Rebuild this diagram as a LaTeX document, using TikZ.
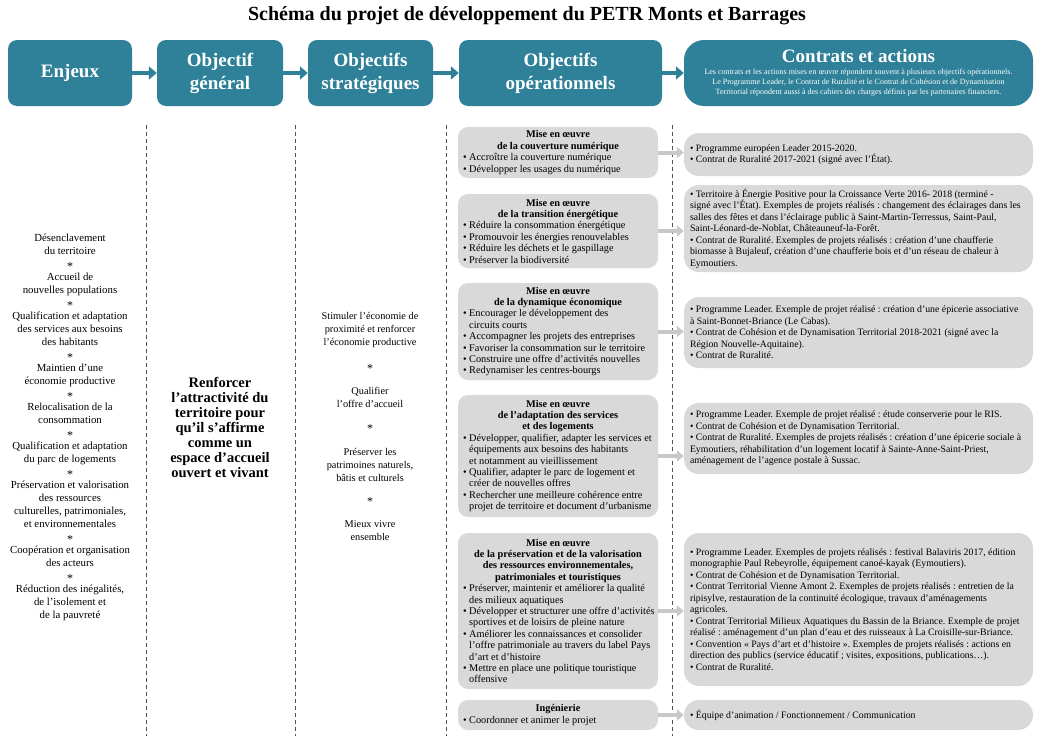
\documentclass[tikz,border=0pt]{standalone}
\usepackage{fontspec}
\setmainfont{Liberation Serif}
\usetikzlibrary{arrows.meta}
\definecolor{petrteal}{HTML}{2E8198}
\definecolor{boxgray}{HTML}{D9D9D9}
\definecolor{arrgray}{HTML}{C8C8C8}
\definecolor{dashgray}{HTML}{505050}
\newcommand\ttl[1]{\makebox[190pt][c]{\bfseries #1}}
\newcommand\ind{\hphantom{•\ }}
\newcommand\petrstar{{\fontsize{12}{13}\selectfont\raisebox{-3pt}[6pt][0pt]{*}}}
\frenchspacing
\begin{document}
\begin{tikzpicture}[x=1pt,y=-1pt,
  hdr/.style={fill=petrteal,text=white,rounded corners=9pt,minimum height=66pt,inner sep=0pt,align=center,font=\fontsize{19}{23}\selectfont\bfseries},
  hdrarrow/.style={draw=petrteal,line width=4.5pt,-{Triangle[length=8pt,width=13pt]}},
  opbox/.style={fill=boxgray,rounded corners=10pt,minimum width=200pt,inner sep=0pt},
  ctbox/.style={fill=boxgray,rounded corners=15pt,minimum width=349pt,inner sep=0pt},
  optext/.style={anchor=west,inner sep=0pt,align=left,font=\fontsize{10.3}{11.4}\selectfont},
  cttext/.style={anchor=west,inner sep=0pt,align=left,font=\fontsize{9.8}{11.5}\selectfont},
  grayarrow/.style={draw=arrgray,line width=4pt,-{Triangle[length=7pt,width=11pt]}},
  divider/.style={draw=dashgray,line width=0.8pt,dash pattern=on 4pt off 3pt},
  coltext/.style={align=center,inner sep=0pt,font=\fontsize{10.8}{13}\selectfont},
  strtext/.style={align=center,inner sep=0pt,font=\fontsize{10.3}{13}\selectfont},
]
\useasboundingbox (0,0) rectangle (1040,736);

% title
\node[font=\fontsize{20}{22}\selectfont\bfseries,inner sep=0pt] (title) at (527,16) {Schéma du projet de développement du PETR Monts et Barrages};

% headers
\node[hdr,minimum width=124pt] (h1) at (70,73) {Enjeux};
\node[hdr,minimum width=126pt] (h2) at (220,73) {Objectif\\général};
\node[hdr,minimum width=125pt] (h3) at (370.5,73) {Objectifs\\stratégiques};
\node[hdr,minimum width=203pt] (h4) at (560.5,73) {Objectifs\\opérationnels};
\node[hdr,minimum width=349pt,rounded corners=20pt] (h5) at (858.5,73) {};
\node[text=white,font=\fontsize{19}{22}\selectfont\bfseries,inner sep=0pt] (h5t) at (858.5,56) {Contrats et actions};
\node[text=white,align=center,font=\fontsize{8}{10}\selectfont,inner sep=0pt] (h5s) at (858.5,83) {Les contrats et les actions mises en œuvre répondent souvent à plusieurs objectifs opérationnels.\\Le Programme Leader, le Contrat de Ruralité et le Contrat de Cohésion et de Dynamisation\\Territorial répondent aussi à des cahiers des charges définis par les partenaires financiers.};

\draw[hdrarrow] (h1.east) -- (h2.west);
\draw[hdrarrow] (h2.east) -- (h3.west);
\draw[hdrarrow] (h3.east) -- (h4.west);
\draw[hdrarrow] (h4.east) -- (h5.west);

% dividers
\draw[divider] (146,125) -- (146,736);
\draw[divider] (295,125) -- (295,736);
\draw[divider] (446,125) -- (446,736);
\draw[divider] (672,125) -- (672,736);

% enjeux column
\node[coltext] (enj) at (70,427) {Désenclavement\\du territoire\\\petrstar\\Accueil de\\nouvelles populations\\\petrstar\\Qualification et adaptation\\des services aux besoins\\des habitants\\\petrstar\\Maintien d'une\\économie productive\\\petrstar\\Relocalisation de la\\consommation\\\petrstar\\Qualification et adaptation\\du parc de logements\\\petrstar\\Préservation et valorisation\\des ressources\\culturelles, patrimoniales,\\et environnementales\\\petrstar\\Coopération et organisation\\des acteurs\\\petrstar\\Réduction des inégalités,\\de l'isolement et\\de la pauvreté};

% objectif general
\node[align=center,font=\fontsize{14.5}{15}\selectfont\bfseries,inner sep=0pt] (gen) at (220,427) {Renforcer\\l'attractivité du\\territoire pour\\qu'il s'affirme\\comme un\\espace d'accueil\\ouvert et vivant};

% objectifs strategiques
\node[strtext] (s1) at (370,330) {Stimuler l'économie de\\proximité et renforcer\\l'économie productive};
\node[strtext] (st1) at (370,366) {\petrstar};
\node[strtext] (s2) at (370,397) {Qualifier\\l'offre d'accueil};
\node[strtext] (st2) at (370,426) {\petrstar};
\node[strtext] (s3) at (370,465) {Préserver les\\patrimoines naturels,\\bâtis et culturels};
\node[strtext] (st3) at (370,499) {\petrstar};
\node[strtext] (s4) at (370,530.5) {Mieux vivre\\ensemble};

% operational boxes
\node[opbox,minimum height=51pt] (o1) at (558,152.5) {};
\node[opbox,minimum height=74pt] (o2) at (558,231) {};
\node[opbox,minimum height=97pt] (o3) at (558,331.5) {};
\node[opbox,minimum height=122pt] (o4) at (558,456) {};
\node[opbox,minimum height=156pt] (o5) at (558,611) {};
\node[opbox,minimum height=30pt] (o6) at (558,715) {};

\node[optext] (t1) at ([xshift=5pt]o1.west) {\ttl{Mise en œuvre}\\\ttl{de la couverture numérique}\\• Accroître la couverture numérique\\• Développer les usages du numérique};
\node[optext] (t2) at ([xshift=5pt]o2.west) {\ttl{Mise en œuvre}\\\ttl{de la transition énergétique}\\• Réduire la consommation énergétique\\• Promouvoir les énergies renouvelables\\• Réduire les déchets et le gaspillage\\• Préserver la biodiversité};
\node[optext] (t3) at ([xshift=5pt]o3.west) {\ttl{Mise en œuvre}\\\ttl{de la dynamique économique}\\• Encourager le développement des\\\ind circuits courts\\• Accompagner les projets des entreprises\\• Favoriser la consommation sur le territoire\\• Construire une offre d'activités nouvelles\\• Redynamiser les centres-bourgs};
\node[optext] (t4) at ([xshift=5pt]o4.west) {\ttl{Mise en œuvre}\\\ttl{de l'adaptation des services}\\\ttl{et des logements}\\• Développer, qualifier, adapter les services et\\\ind équipements aux besoins des habitants\\\ind et notamment au vieillissement\\• Qualifier, adapter le parc de logement et\\\ind créer de nouvelles offres\\• Rechercher une meilleure cohérence entre\\\ind projet de territoire et document d'urbanisme};
\node[optext] (t5) at ([xshift=5pt]o5.west) {\ttl{Mise en œuvre}\\\ttl{de la préservation et de la valorisation}\\\ttl{des ressources environnementales,}\\\ttl{patrimoniales et touristiques}\\• Préserver, maintenir et améliorer la qualité\\\ind des milieux aquatiques\\• Développer et structurer une offre d'activités\\\ind sportives et de loisirs de pleine nature\\• Améliorer les connaissances et consolider\\\ind l'offre patrimoniale au travers du label Pays\\\ind d'art et d'histoire\\• Mettre en place une politique touristique\\\ind offensive};
\node[optext] (t6) at ([xshift=5pt]o6.west) {\ttl{Ingénierie}\\• Coordonner et animer le projet};

% contract boxes
\node[ctbox,minimum height=43pt] (c1) at (858.5,154.5) {};
\node[ctbox,minimum height=87pt] (c2) at (858.5,228.5) {};
\node[ctbox,minimum height=71pt] (c3) at (858.5,332.5) {};
\node[ctbox,minimum height=71pt] (c4) at (858.5,438.5) {};
\node[ctbox,minimum height=153pt] (c5) at (858.5,609.5) {};
\node[ctbox,minimum height=30pt] (c6) at (858.5,715) {};

\node[cttext] (u1) at ([xshift=6pt]c1.west) {• Programme européen Leader 2015-2020.\\• Contrat de Ruralité 2017-2021 (signé avec l'État).};
\node[cttext] (u2) at ([xshift=6pt]c2.west) {• Territoire à Énergie Positive pour la Croissance Verte 2016- 2018 (terminé -\\signé avec l'État). Exemples de projets réalisés : changement des éclairages dans les\\salles des fêtes et dans l'éclairage public à Saint-Martin-Terressus, Saint-Paul,\\Saint-Léonard-de-Noblat, Châteauneuf-la-Forêt.\\• Contrat de Ruralité. Exemples de projets réalisés : création d'une chaufferie\\biomasse à Bujaleuf, création d'une chaufferie bois et d'un réseau de chaleur à\\Eymoutiers.};
\node[cttext] (u3) at ([xshift=6pt]c3.west) {• Programme Leader. Exemple de projet réalisé : création d'une épicerie associative\\à Saint-Bonnet-Briance (Le Cabas).\\• Contrat de Cohésion et de Dynamisation Territorial 2018-2021 (signé avec la\\Région Nouvelle-Aquitaine).\\• Contrat de Ruralité.};
\node[cttext] (u4) at ([xshift=6pt]c4.west) {• Programme Leader. Exemple de projet réalisé : étude conserverie pour le RIS.\\• Contrat de Cohésion et de Dynamisation Territorial.\\• Contrat de Ruralité. Exemples de projets réalisés : création d'une épicerie sociale à\\Eymoutiers, réhabilitation d'un logement locatif à Sainte-Anne-Saint-Priest,\\aménagement de l'agence postale à Sussac.};
\node[cttext] (u5) at ([xshift=6pt]c5.west) {• Programme Leader. Exemples de projets réalisés : festival Balaviris 2017, édition\\monographie Paul Rebeyrolle, équipement canoé-kayak (Eymoutiers).\\• Contrat de Cohésion et de Dynamisation Territorial.\\• Contrat Territorial Vienne Amont 2. Exemples de projets réalisés : entretien de la\\ripisylve, restauration de la continuité écologique, travaux d'aménagements\\agricoles.\\• Contrat Territorial Milieux Aquatiques du Bassin de la Briance. Exemple de projet\\réalisé : aménagement d'un plan d'eau et des ruisseaux à La Croisille-sur-Briance.\\• Convention « Pays d'art et d'histoire ». Exemples de projets réalisés : actions en\\direction des publics (service éducatif ; visites, expositions, publications…).\\• Contrat de Ruralité.};
\node[cttext] (u6) at ([xshift=6pt]c6.west) {• Équipe d'animation / Fonctionnement / Communication};

% connectors
\draw[grayarrow] (o1.east) -- (o1.east -| c1.west);
\draw[grayarrow] (o2.east) -- (o2.east -| c2.west);
\draw[grayarrow] (o3.east) -- (o3.east -| c3.west);
\draw[grayarrow] (o4.east) -- (o4.east -| c4.west);
\draw[grayarrow] (o5.east) -- (o5.east -| c5.west);
\draw[grayarrow] (o6.east) -- (o6.east -| c6.west);
\end{tikzpicture}
\end{document}
